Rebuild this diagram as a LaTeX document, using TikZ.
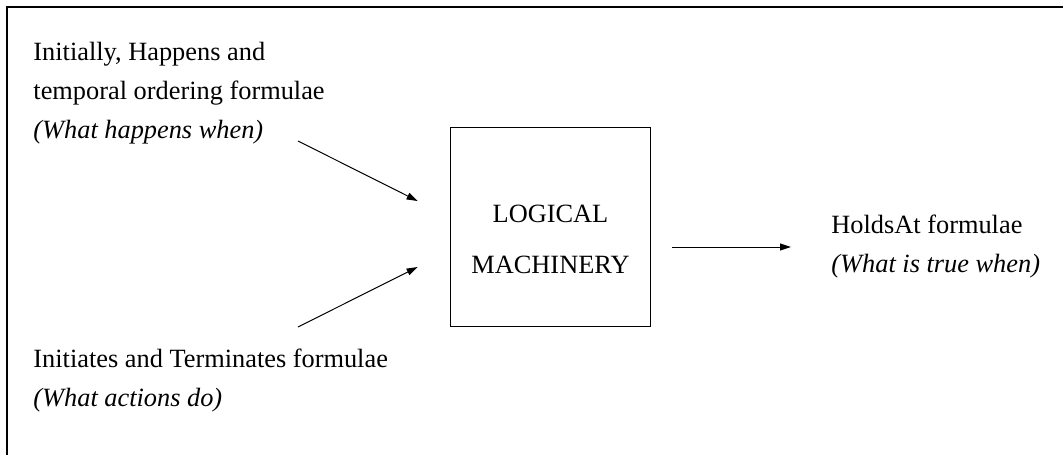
\documentclass[tikz,border=0pt]{standalone}
\usepackage{fontspec}
\setmainfont{Liberation Serif}
\usetikzlibrary{arrows.meta,calc}

\begin{document}
\begin{tikzpicture}[
  x=0.016cm, y=-0.016cm,
  font=\fontsize{12}{17.7}\selectfont,
  >={Triangle[length=5pt,width=3.2pt]},
  line/.style={->,line width=0.45pt},
  frame/.style={line width=0.7pt},
  txt/.style={align=left,inner sep=0pt,anchor=north west},
  machine/.style={draw,line width=0.5pt,inner sep=0pt,align=center,
                  text height=42pt,text depth=0pt,
                  minimum width=91.4pt,minimum height=90.9pt}
]
\useasboundingbox (0,0) rectangle (1063,455);
\draw[frame] (7,455) -- (7,7) -- (1063,7);

\node[txt] (happens) at (33,42) {Initially, Happens and\\
  temporal ordering formulae\\ \textit{(What happens when)}};
\node[txt] (actions) at (33,349) {Initiates and Terminates formulae\\
  \textit{(What actions do)}};
\node[machine] (logic) at (550.5,227) {LOGICAL\\[5.5pt] MACHINERY};
\node[txt] (holds) at (831,215) {HoldsAt formulae\\
  \textit{(What is true when)}};

\coordinate (happens-out) at (298,141);
\coordinate (actions-out) at (298,327);
\coordinate (holds-in) at (791,247);

\draw[line] (happens-out) -- ($(logic.west)+(-32,-26)$);
\draw[line] (actions-out) -- ($(logic.west)+(-32,40)$);
\draw[line] ($(logic.east)+(21,20)$) -- (holds-in);
\end{tikzpicture}
\end{document}
